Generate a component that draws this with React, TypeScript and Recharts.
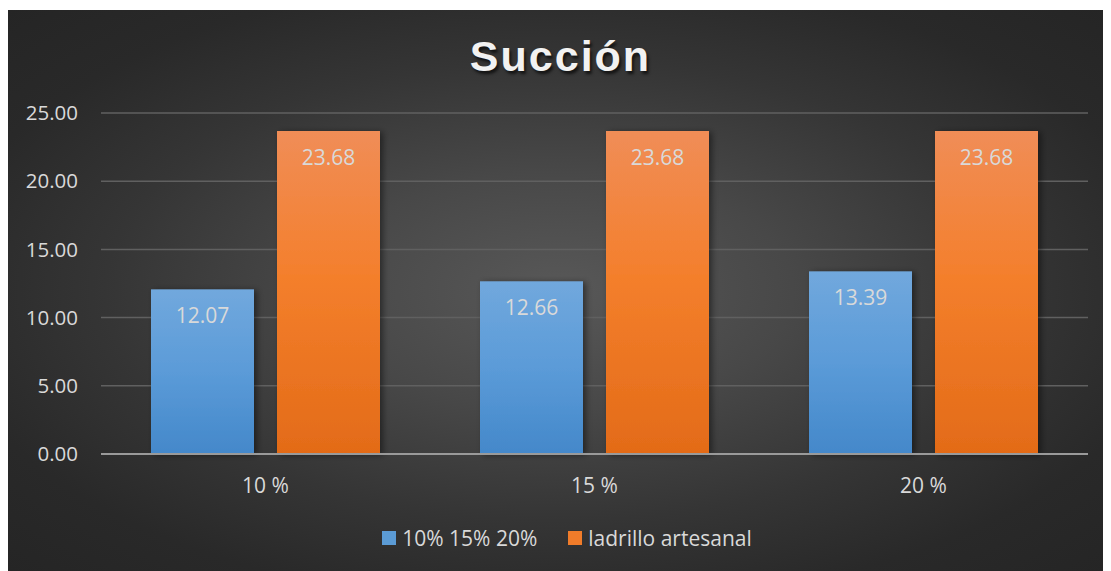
import React from 'react';
import {
  BarChart,
  Bar,
  XAxis,
  YAxis,
  CartesianGrid,
  Legend,
  LabelList,
  ReferenceLine,
} from 'recharts';

// Categories and series values
const categories = ['10 %', '15 %', '20 %'];
const mezcla = [12.07, 12.66, 13.39];
const artesanal = [23.68, 23.68, 23.68];
const yTicks = [0, 5, 10, 15, 20, 25];

const seriesNames = {
  mezcla: '10% 15% 20%',
  artesanal: 'ladrillo artesanal',
};

const data = categories.map((c, i) => ({
  name: c,
  mezcla: mezcla[i],
  artesanal: artesanal[i],
}));

const FONT = '"Open Sans", "Noto Sans", sans-serif';
const TEXT = '#d9d9d9';

const ShadowBar = (props: any) => {
  const { x, y, width, height, fill } = props;
  if (height <= 0) return null;
  return (
    <rect
      x={x}
      y={y}
      width={width}
      height={height}
      fill={fill}
      filter="url(#barShadow)"
    />
  );
};

const LegendContent = () => (
  <div
    style={{
      display: 'flex',
      justifyContent: 'center',
      alignItems: 'center',
      height: 40,
      boxSizing: 'border-box',
      paddingBottom: 6,
      fontFamily: FONT,
      fontSize: 21,
      color: TEXT,
      paddingLeft: 40,
    }}
  >
    <span style={{ display: 'inline-block', width: 14, height: 14, background: '#5b9bd5', marginRight: 6 }} />
    <span style={{ marginRight: 31 }}>{seriesNames.mezcla}</span>
    <span style={{ display: 'inline-block', width: 14, height: 14, background: '#f07c2a', marginRight: 6 }} />
    <span>{seriesNames.artesanal}</span>
  </div>
);

export default function App() {
  return (
    <div
      style={{
        position: 'relative',
        width: 1105,
        height: 561,
        marginLeft: -2,
        marginTop: 2,
        background:
          'radial-gradient(ellipse farthest-corner at 50% 50%, #585858 0%, #484848 30%, #353535 58%, #292929 80%, #252525 100%)',
      }}
    >
      <div
        style={{
          position: 'absolute',
          left: 0,
          right: 0,
          top: 20,
          textAlign: 'center',
          fontFamily: '"Liberation Sans", Arial, sans-serif',
          fontWeight: 700,
          fontSize: 43,
          letterSpacing: 2,
          color: '#f2f2f2',
          textShadow: '2px 3px 3px rgba(0,0,0,0.65)',
          lineHeight: '52px',
          paddingLeft: 4,
        }}
      >
        Succión
      </div>
      <BarChart
        width={1105}
        height={561}
        data={data}
        margin={{ top: 103, right: 23, bottom: 10, left: 0 }}
        barSize={103}
        barGap={23}
        style={{ position: 'absolute', left: 0, top: 0 }}
      >
        <defs>
          <linearGradient id="gBlue" x1="0" y1="0" x2="0" y2="1">
            <stop offset="0%" stopColor="#71a8dd" />
            <stop offset="50%" stopColor="#5b9bd8" />
            <stop offset="100%" stopColor="#4488ca" />
          </linearGradient>
          <linearGradient id="gOrange" x1="0" y1="0" x2="0" y2="1">
            <stop offset="0%" stopColor="#f08d57" />
            <stop offset="45%" stopColor="#f47f2c" />
            <stop offset="100%" stopColor="#e36b18" />
          </linearGradient>
          <filter id="barShadow" x="-10%" y="-10%" width="130%" height="120%">
            <feDropShadow dx="3" dy="1" stdDeviation="3" floodColor="#000" floodOpacity="0.45" />
          </filter>
        </defs>
        <CartesianGrid vertical={false} stroke="#606060" strokeWidth={1.5} />
        <XAxis
          dataKey="name"
          axisLine={false}
          tickLine={false}
          tickMargin={18}
          height={67}
          tick={{ fill: TEXT, fontSize: 21, fontFamily: FONT }}
        />
        <YAxis
          domain={[0, 25]}
          ticks={yTicks}
          width={95}
          axisLine={false}
          tickLine={false}
          tickMargin={17}
          tickFormatter={(v: number) => v.toFixed(2)}
          tick={{ fill: TEXT, fontSize: 20.5, fontFamily: FONT }}
        />
        <Legend verticalAlign="bottom" height={40} content={<LegendContent />} />
        <Bar
          dataKey="mezcla"
          name={seriesNames.mezcla}
          fill="url(#gBlue)"
          shape={<ShadowBar />}
          isAnimationActive={false}
        >
          <LabelList
            dataKey="mezcla"
            position="insideTop"
            offset={19}
            formatter={(v: any) => Number(v).toFixed(2)}
            style={{ fill: TEXT, fontSize: 21, fontFamily: FONT }}
          />
        </Bar>
        <Bar
          dataKey="artesanal"
          name={seriesNames.artesanal}
          fill="url(#gOrange)"
          shape={<ShadowBar />}
          isAnimationActive={false}
        >
          <LabelList
            dataKey="artesanal"
            position="insideTop"
            offset={19}
            formatter={(v: any) => Number(v).toFixed(2)}
            style={{ fill: TEXT, fontSize: 21, fontFamily: FONT }}
          />
        </Bar>
        <ReferenceLine y={0} stroke="#9a9a9a" strokeWidth={2} ifOverflow="extendDomain" />
      </BarChart>
    </div>
  );
}
